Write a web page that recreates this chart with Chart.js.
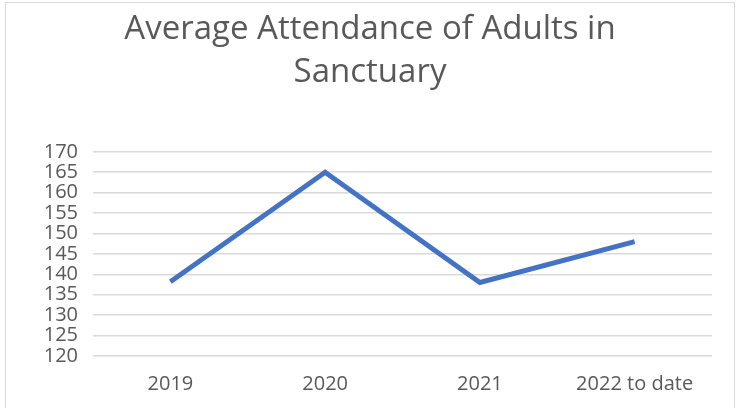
<!DOCTYPE html>
<html>
<head>
<meta charset="utf-8">
<script src="https://cdn.jsdelivr.net/npm/chart.js@4/dist/chart.umd.min.js"></script>
<style>
html,body{margin:0;padding:0;background:#fff;width:736px;height:408px;overflow:hidden;}
#box{position:absolute;left:5px;top:2px;width:728px;height:420px;border:1px solid #d9d9d9;border-bottom:none;background:#fff;}
#wrap{position:absolute;left:0;top:0;width:728px;height:409px;}
</style>
</head>
<body>
<div id="box"><div id="wrap"><canvas id="c"></canvas></div></div>
<script>
const categories = ["2019", "2020", "2021", "2022 to date"];
const attendance = [138.2, 165, 138, 148];
const yMin = 120, yMax = 170, yStep = 5;
const titleLines = ["Average Attendance of Adults in", "Sanctuary"];

new Chart(document.getElementById('c'), {
  type: 'line',
  data: {
    labels: categories,
    datasets: [{
      label: 'Average Attendance',
      data: attendance,
      borderColor: '#4472C4',
      backgroundColor: '#4472C4',
      borderWidth: 5,
      pointRadius: 0,
      tension: 0,
      borderCapStyle: 'butt',
      borderJoinStyle: 'miter'
    }]
  },
  options: {
    responsive: true,
    maintainAspectRatio: false,
    animation: false,
    layout: { padding: { left: 22, right: 22, top: 0, bottom: 0 } },
    plugins: {
      legend: { display: false },
      tooltip: { enabled: false },
      title: {
        display: true,
        text: titleLines,
        color: '#595959',
        font: { family: "'Open Sans'", size: 33, weight: 'normal', lineHeight: 1.3 },
        padding: { top: 5, bottom: 58 }
      }
    },
    scales: {
      x: {
        offset: true,
        grid: { display: false, drawTicks: false },
        border: { display: false },
        ticks: { color: '#595959', font: { family: "'Open Sans'", size: 20 }, padding: 16, maxRotation: 0, autoSkip: false }
      },
      y: {
        min: yMin, max: yMax,
        afterFit: s => { s.width = 65; },
        grid: { color: '#d9d9d9', lineWidth: 1.5, drawTicks: false },
        border: { display: false },
        ticks: { stepSize: yStep, color: '#595959', font: { family: "'Open Sans'", size: 20, lineHeight: 1 }, padding: 15, autoSkip: false }
      }
    }
  }
});
</script>
</body>
</html>
